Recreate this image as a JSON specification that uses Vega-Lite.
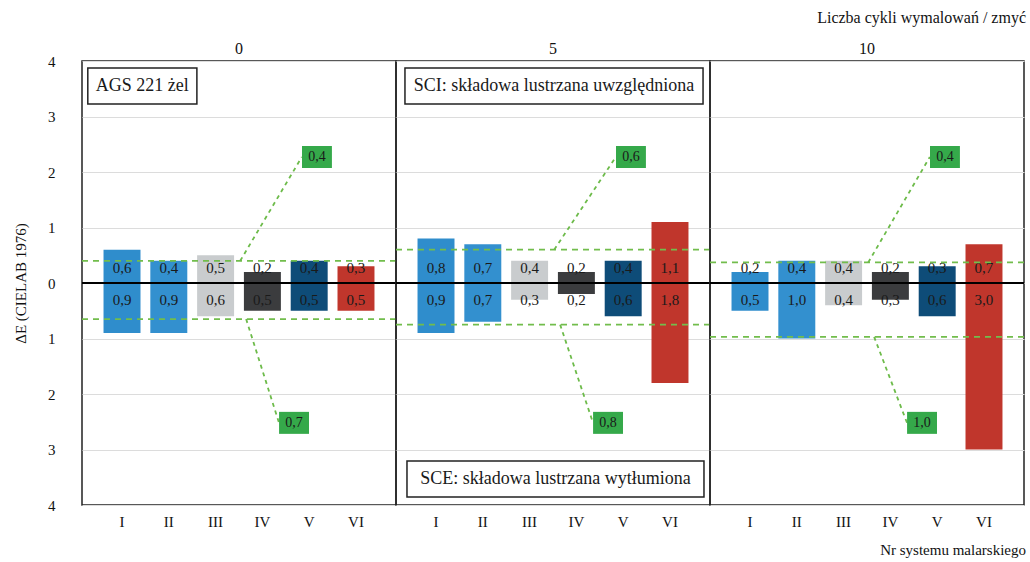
{
  "$schema": "https://vega.github.io/schema/vega-lite/v6.json",
  "padding": {"left": 13, "top": 10, "right": 4, "bottom": 4},
  "bounds": "flush",
  "config": {
    "locale": {"number": {"decimal": ",", "thousands": " ", "grouping": [3], "currency": ["", " zł"], "minus": ""}},
    "font": "Liberation Serif",
    "view": {"stroke": "#222", "strokeWidth": 1.5},
    "facet": {"spacing": 0},
    "header": {
      "labelFont": "Liberation Serif", "labelFontSize": 16, "labelColor": "#111", "labelPadding": 4,
      "titleFont": "Liberation Serif", "titleFontSize": 16, "titleFontWeight": "normal", "titleColor": "#111",
      "titleAnchor": "end", "titlePadding": 5
    },
    "axis": {"labelFont": "Liberation Serif", "titleFont": "Liberation Serif", "labelColor": "#111", "titleColor": "#111"}
  },
  "title": {"text": "Nr systemu malarskiego", "orient": "bottom", "anchor": "end", "fontSize": 15, "fontWeight": "normal", "font": "Liberation Serif", "color": "#111", "offset": 14},
  "data": {"values": [
    {"kind": "bar", "cykle": 0, "system": "I", "sci": 0.6, "sce": -0.9},
    {"kind": "bar", "cykle": 0, "system": "II", "sci": 0.4, "sce": -0.9},
    {"kind": "bar", "cykle": 0, "system": "III", "sci": 0.5, "sce": -0.6},
    {"kind": "bar", "cykle": 0, "system": "IV", "sci": 0.2, "sce": -0.5},
    {"kind": "bar", "cykle": 0, "system": "V", "sci": 0.4, "sce": -0.5},
    {"kind": "bar", "cykle": 0, "system": "VI", "sci": 0.3, "sce": -0.5},
    {"kind": "bar", "cykle": 5, "system": "I", "sci": 0.8, "sce": -0.9},
    {"kind": "bar", "cykle": 5, "system": "II", "sci": 0.7, "sce": -0.7},
    {"kind": "bar", "cykle": 5, "system": "III", "sci": 0.4, "sce": -0.3},
    {"kind": "bar", "cykle": 5, "system": "IV", "sci": 0.2, "sce": -0.2},
    {"kind": "bar", "cykle": 5, "system": "V", "sci": 0.4, "sce": -0.6},
    {"kind": "bar", "cykle": 5, "system": "VI", "sci": 1.1, "sce": -1.8},
    {"kind": "bar", "cykle": 10, "system": "I", "sci": 0.2, "sce": -0.5},
    {"kind": "bar", "cykle": 10, "system": "II", "sci": 0.4, "sce": -1.0},
    {"kind": "bar", "cykle": 10, "system": "III", "sci": 0.4, "sce": -0.4},
    {"kind": "bar", "cykle": 10, "system": "IV", "sci": 0.2, "sce": -0.3},
    {"kind": "bar", "cykle": 10, "system": "V", "sci": 0.3, "sce": -0.6},
    {"kind": "bar", "cykle": 10, "system": "VI", "sci": 0.7, "sce": -3.0},
    {"kind": "mean", "cykle": 0, "sci_mean": 0.4, "sce_mean": -0.65},
    {"kind": "mean", "cykle": 5, "sci_mean": 0.6, "sce_mean": -0.75},
    {"kind": "mean", "cykle": 10, "sci_mean": 0.37, "sce_mean": -0.97},
    {"kind": "note", "cykle": 0, "id": "AGS", "label": "AGS 221 żel"},
    {"kind": "note", "cykle": 5, "id": "SCI", "label": "SCI: składowa lustrzana uwzględniona"},
    {"kind": "note", "cykle": 5, "id": "SCE", "label": "SCE: składowa lustrzana wytłumiona"}
  ]},
  "facet": {"column": {"field": "cykle", "type": "ordinal", "title": "Liczba cykli wymalowań / zmyć"}},
  "spacing": 0,
  "spec": {
    "width": 314,
    "height": 444,
    "layer": [
      {
        "transform": [{"filter": "datum.kind == 'bar'"}],
        "mark": {"type": "bar"},
        "encoding": {
          "x": {"field": "system", "type": "nominal", "scale": {"domain": ["I", "II", "III", "IV", "V", "VI"], "paddingInner": 0.21, "paddingOuter": 0.46},
                "axis": {"title": null, "domain": false, "ticks": false, "labelAngle": 0, "labelFontSize": 15, "labelPadding": 9}},
          "y": {"field": "sci", "type": "quantitative", "title": "ΔE (CIELAB 1976)",
                "scale": {"domain": [-4, 4], "nice": false},
                "axis": {"values": [-4, -3, -2, -1, 0, 1, 2, 3, 4], "format": "d", "domain": false, "ticks": false,
                         "labelFontSize": 15, "labelPadding": 27, "titleFontSize": 15, "titleFontWeight": "normal", "titlePadding": 19,
                         "grid": true, "gridColor": "#dcdcdc", "gridWidth": 1}},
          "color": {"field": "system", "type": "nominal", "legend": null,
                    "scale": {"domain": ["I", "II", "III", "IV", "V", "VI"], "range": ["#2f8dcc", "#3390cf", "#c9ccce", "#3b3c3e", "#0e4c78", "#c0362c"]}}
        }
      },
      {
        "transform": [{"filter": "datum.kind == 'bar'"}],
        "mark": {"type": "bar"},
        "encoding": {
          "x": {"field": "system", "type": "nominal"},
          "y": {"field": "sce", "type": "quantitative", "title": "ΔE (CIELAB 1976)"},
          "color": {"field": "system", "type": "nominal", "legend": null}
        }
      },
      {
        "transform": [{"filter": "datum.kind == 'bar'"}],
        "mark": {"type": "text", "fontSize": 15, "color": "#1a1a1a", "baseline": "middle"},
        "encoding": {
          "x": {"field": "system", "type": "nominal"},
          "y": {"datum": 0.27, "title": "ΔE (CIELAB 1976)"},
          "text": {"field": "sci", "type": "quantitative", "format": ".1f"}
        }
      },
      {
        "transform": [{"filter": "datum.kind == 'bar'"}],
        "mark": {"type": "text", "fontSize": 15, "color": "#1a1a1a", "baseline": "middle"},
        "encoding": {
          "x": {"field": "system", "type": "nominal"},
          "y": {"datum": -0.3, "title": "ΔE (CIELAB 1976)"},
          "text": {"field": "sce", "type": "quantitative", "format": ".1f"}
        }
      },
      {
        "transform": [{"filter": "datum.kind == 'mean'"}],
        "mark": {"type": "rule", "stroke": "#72bd4c", "strokeWidth": 1.8, "strokeDash": [6, 5]},
        "encoding": {"y": {"field": "sci_mean", "type": "quantitative", "title": "ΔE (CIELAB 1976)"}}
      },
      {
        "transform": [{"filter": "datum.kind == 'mean'"}],
        "mark": {"type": "rule", "stroke": "#72bd4c", "strokeWidth": 1.8, "strokeDash": [6, 5]},
        "encoding": {"y": {"field": "sce_mean", "type": "quantitative", "title": "ΔE (CIELAB 1976)"}}
      },
      {
        "transform": [{"filter": "datum.kind == 'mean'"}],
        "mark": {"type": "rule", "stroke": "#6dbb4a", "strokeWidth": 1.8, "strokeDash": [4, 4]},
        "encoding": {
          "x": {"datum": "IV", "type": "nominal", "bandPosition": -0.1},
          "x2": {"datum": "V", "bandPosition": 0.3},
          "y": {"field": "sci_mean", "type": "quantitative", "title": "ΔE (CIELAB 1976)"},
          "y2": {"datum": 2.27}
        }
      },
      {
        "transform": [{"filter": "datum.kind == 'mean'"}],
        "mark": {"type": "rule", "stroke": "#6dbb4a", "strokeWidth": 1.8, "strokeDash": [4, 4]},
        "encoding": {
          "x": {"datum": "IV", "type": "nominal", "bandPosition": 0.06},
          "x2": {"datum": "IV", "bandPosition": 0.95},
          "y": {"field": "sce_mean", "type": "quantitative", "title": "ΔE (CIELAB 1976)"},
          "y2": {"datum": -2.52}
        }
      },
      {
        "transform": [{"filter": "datum.kind == 'mean'"}],
        "mark": {"type": "point", "shape": "M-1.36,-1H1.36V1H-1.36Z", "filled": true, "fill": "#35a94a", "opacity": 1, "size": 484, "strokeWidth": 0},
        "encoding": {
          "x": {"datum": "V", "type": "nominal", "bandPosition": 0.71},
          "y": {"datum": 2.27, "title": "ΔE (CIELAB 1976)"}
        }
      },
      {
        "transform": [{"filter": "datum.kind == 'mean'"}],
        "mark": {"type": "text", "fontSize": 14, "color": "#1a1a1a", "baseline": "middle"},
        "encoding": {
          "x": {"datum": "V", "type": "nominal", "bandPosition": 0.71},
          "y": {"datum": 2.27, "title": "ΔE (CIELAB 1976)"},
          "text": {"field": "sci_mean", "type": "quantitative", "format": ".1f"}
        }
      },
      {
        "transform": [{"filter": "datum.kind == 'mean'"}],
        "mark": {"type": "point", "shape": "M-1.36,-1H1.36V1H-1.36Z", "filled": true, "fill": "#35a94a", "opacity": 1, "size": 484, "strokeWidth": 0},
        "encoding": {
          "x": {"datum": "V", "type": "nominal", "bandPosition": 0.09},
          "y": {"datum": -2.52, "title": "ΔE (CIELAB 1976)"}
        }
      },
      {
        "transform": [{"filter": "datum.kind == 'mean'"}],
        "mark": {"type": "text", "fontSize": 14, "color": "#1a1a1a", "baseline": "middle"},
        "encoding": {
          "x": {"datum": "V", "type": "nominal", "bandPosition": 0.09},
          "y": {"datum": -2.52, "title": "ΔE (CIELAB 1976)"},
          "text": {"field": "sce_mean", "type": "quantitative", "format": ".1f"}
        }
      },
      {
        "transform": [{"filter": "datum.kind == 'mean'"}],
        "mark": {"type": "rule", "stroke": "#000000", "strokeWidth": 2},
        "encoding": {"y": {"datum": 0, "title": "ΔE (CIELAB 1976)"}}
      },
      {
        "transform": [{"filter": "datum.kind == 'note' && datum.id == 'AGS'"}],
        "mark": {"type": "point", "shape": "M-3.03,-1H3.03V1H-3.03Z", "filled": false, "fill": "#ffffff", "fillOpacity": 1, "stroke": "#222", "strokeWidth": 1.5, "opacity": 1, "size": 1296},
        "encoding": {
          "x": {"datum": "I", "type": "nominal", "bandPosition": 1.05},
          "y": {"datum": 3.55, "title": "ΔE (CIELAB 1976)"}
        }
      },
      {
        "transform": [{"filter": "datum.kind == 'note' && datum.id == 'AGS'"}],
        "mark": {"type": "text", "fontSize": 18, "color": "#1a1a1a", "baseline": "middle"},
        "encoding": {
          "x": {"datum": "I", "type": "nominal", "bandPosition": 1.05},
          "y": {"datum": 3.55, "title": "ΔE (CIELAB 1976)"},
          "text": {"field": "label", "type": "nominal"}
        }
      },
      {
        "transform": [{"filter": "datum.kind == 'note' && datum.id == 'SCI'"}],
        "mark": {"type": "point", "shape": "M-8.28,-1H8.28V1H-8.28Z", "filled": false, "fill": "#ffffff", "fillOpacity": 1, "stroke": "#222", "strokeWidth": 1.5, "opacity": 1, "size": 1296},
        "encoding": {
          "x": {"datum": "III", "type": "nominal", "bandPosition": 1.16},
          "y": {"datum": 3.55, "title": "ΔE (CIELAB 1976)"}
        }
      },
      {
        "transform": [{"filter": "datum.kind == 'note' && datum.id == 'SCI'"}],
        "mark": {"type": "text", "fontSize": 18, "color": "#1a1a1a", "baseline": "middle"},
        "encoding": {
          "x": {"datum": "III", "type": "nominal", "bandPosition": 1.16},
          "y": {"datum": 3.55, "title": "ΔE (CIELAB 1976)"},
          "text": {"field": "label", "type": "nominal"}
        }
      },
      {
        "transform": [{"filter": "datum.kind == 'note' && datum.id == 'SCE'"}],
        "mark": {"type": "point", "shape": "M-8.25,-1H8.25V1H-8.25Z", "filled": false, "fill": "#ffffff", "fillOpacity": 1, "stroke": "#222", "strokeWidth": 1.5, "opacity": 1, "size": 1296},
        "encoding": {
          "x": {"datum": "III", "type": "nominal", "bandPosition": 1.2},
          "y": {"datum": -3.53, "title": "ΔE (CIELAB 1976)"}
        }
      },
      {
        "transform": [{"filter": "datum.kind == 'note' && datum.id == 'SCE'"}],
        "mark": {"type": "text", "fontSize": 18, "color": "#1a1a1a", "baseline": "middle"},
        "encoding": {
          "x": {"datum": "III", "type": "nominal", "bandPosition": 1.2},
          "y": {"datum": -3.53, "title": "ΔE (CIELAB 1976)"},
          "text": {"field": "label", "type": "nominal"}
        }
      }
    ]
  }
}
